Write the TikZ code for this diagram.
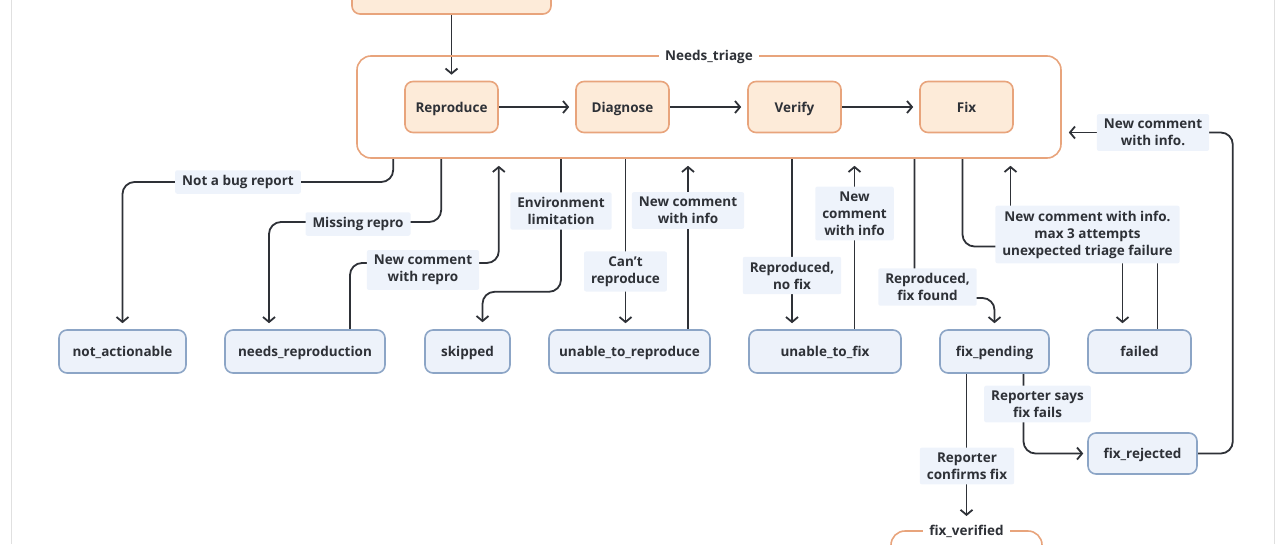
\documentclass[tikz,border=0pt]{standalone}
\usepackage{fontspec}
\setmainfont{Open Sans}
\usetikzlibrary{arrows.meta, backgrounds}

\definecolor{peach}{HTML}{FDEBD9}
\definecolor{peachline}{HTML}{E8A47C}
\definecolor{ice}{HTML}{EDF2FA}
\definecolor{iceline}{HTML}{8CA5C6}
\definecolor{condbg}{HTML}{EEF3FB}
\definecolor{ink}{HTML}{2E3137}

\tikzset{
  txt/.style={font=\fontsize{13.5}{17}\selectfont\bfseries, text=ink},
  boxtxt/.style={txt, text height=11pt, text depth=1pt},
  stage/.style={boxtxt, draw=peachline, fill=peach, line width=1.6pt, rounded corners=8pt, minimum width=93pt, minimum height=51pt},
  group/.style={draw=peachline, line width=1.6pt, rounded corners=14pt, inner sep=0pt},
  grouplbl/.style={boxtxt, fill=white, inner xsep=6pt, inner ysep=2pt},
  status/.style={boxtxt, draw=iceline, fill=ice, line width=1.6pt, rounded corners=8pt, minimum height=43pt},
  why/.style={txt, fill=condbg, align=center, inner xsep=7pt, inner ysep=5pt, rounded corners=2pt},
  link/.style={ink, line width=1.8pt, rounded corners=12pt},
  flow/.style={link, -{Straight Barb[length=5pt, width=12pt]}},
}

\begin{document}
\begin{tikzpicture}[x=1pt, y=-1pt]
\useasboundingbox (0,0) rectangle (1279,544);

% stages
\node[stage, minimum width=199pt, minimum height=60pt] (intake) at (451.5,-16) {};
\node[group, minimum width=704pt, minimum height=102pt] (triage) at (709,107) {};
\node[grouplbl] (triagelbl) at (triage.north) {Needs\_triage};
\node[stage] (repro) at (451.5,107) {Reproduce};
\node[stage] (diag) at (622.5,107) {Diagnose};
\node[stage] (verify) at (794.5,107) {Verify};
\node[stage] (fix) at (966.5,107) {Fix};

% statuses
\node[status, minimum width=127pt] (notact) at (122.5,351.5) {not\_actionable};
\node[status, minimum width=160pt] (needs) at (305,351.5) {needs\_reproduction};
\node[status, minimum width=85pt] (skipped) at (467.5,351.5) {skipped};
\node[status, minimum width=161pt] (unrep) at (629.5,351.5) {unable\_to\_reproduce};
\node[status, minimum width=152pt] (unfix) at (825,351.5) {unable\_to\_fix};
\node[status, minimum width=109pt] (fixp) at (994.5,351.5) {fix\_pending};
\node[status, minimum width=103pt] (failed) at (1139.5,351.5) {failed};
\node[status, minimum width=109pt, minimum height=41pt] (rejected) at (1142.5,453.5) {fix\_rejected};
\node[group, minimum width=151pt, minimum height=80pt] (verified) at (966.5,571) {};
\node[grouplbl] (verifiedlbl) at (verified.north) {fix\_verified};

% conditions
\node[why] (notbug) at (238,182) {Not a bug report};
\node[why] (norepro) at (358,224) {Missing repro};
\node[why] (gotrepro) at (423,270) {New comment\\with repro};
\node[why] (envlim) at (561,211) {Environment\\limitation};
\node[why] (cantrep) at (625.5,271.5) {Can{\char"0027}t\\reproduce};
\node[why] (info1) at (688,210.5) {New comment\\with info};
\node[why] (nofix) at (792,275.5) {Reproduced,\\no fix};
\node[why] (info2) at (854.5,213.5) {New\\comment\\with info};
\node[why] (fixfound) at (927.5,287) {Reproduced,\\fix found};
\node[why] (retry) at (1087.5,234.5) {New comment with info.\\max 3 attempts\\unexpected triage failure};
\node[why] (info3) at (1153,132.5) {New comment\\with info.};
\node[why] (fails) at (1037.5,404) {Reporter says\\fix fails};
\node[why] (confirms) at (967,466) {Reporter\\confirms fix};

\begin{scope}[on background layer]
  % page frame
  \draw[black!12, line width=1pt] (11,0) -- (11,544);
  \draw[black!12, line width=1pt] (1274,0) -- (1274,544);

  \draw[flow, shorten >=6pt] (intake) -- (repro);
  \draw[flow, shorten >=6pt] (repro) -- (diag);
  \draw[flow, shorten >=6pt] (diag) -- (verify);
  \draw[flow, shorten >=6pt] (verify) -- (fix);

  % out of triage
  \draw[flow, shorten >=6pt] ([xshift=37pt]triage.south west) |- (notbug.center) -| (notact.north);
  \draw[flow, shorten >=6pt] ([xshift=85pt]triage.south west) |- ([yshift=2pt]norepro.center) -| ([xshift=-36pt]needs.north);
  \draw[flow, shorten >=7pt] ([xshift=45pt]needs.north) |- ([yshift=7pt]gotrepro.center) -| (repro.east |- triage.south);
  \draw[flow, shorten >=7pt] (envlim |- triage.south) -- ++(0,133) -| ([xshift=15pt]skipped.north);
  \draw[flow, shorten >=6pt] (cantrep |- triage.south) -- (cantrep |- unrep.north);
  \draw[flow, shorten >=7pt] (info1 |- unrep.north) -- (info1 |- triage.south);
  \draw[flow, shorten >=6pt] (nofix |- triage.south) -- (nofix |- unfix.north);
  \draw[flow, shorten >=7pt] (info2 |- unfix.north) -- (info2 |- triage.south);
  \draw[flow, shorten >=6pt] ([xshift=-13pt]fixfound.center |- triage.south) |- ([yshift=-11pt]fixfound.center) -| (fixp.north);

  % retries and failure
  \draw[link] ([xshift=-4pt]fix.south |- triage.south) |- ([yshift=-12pt]retry.center);
  \draw[flow, shorten >=7pt] ([xshift=-77pt]retry.center) -- ([xshift=-77pt]retry.center |- triage.south);
  \draw[flow, shorten >=6pt] ([xshift=35pt]retry.center) -- ([xshift=35pt]retry.center |- failed.north);
  \draw[link] ([xshift=18pt]failed.north) -- ([xshift=18pt]failed.north |- retry.center);

  % after a fix
  \draw[flow, shorten >=4pt] ([xshift=29pt]fixp.south) |- (rejected.west);
  \draw[flow, shorten >=6pt] (verified |- fixp.south) -- (verifiedlbl.north);
  \draw[link] (rejected.east) -- ++(35,0) |- (info3.center);
  \draw[flow, shorten >=7pt] (info3.center) -- (info3 -| triage.east);
\end{scope}
\end{tikzpicture}
\end{document}
